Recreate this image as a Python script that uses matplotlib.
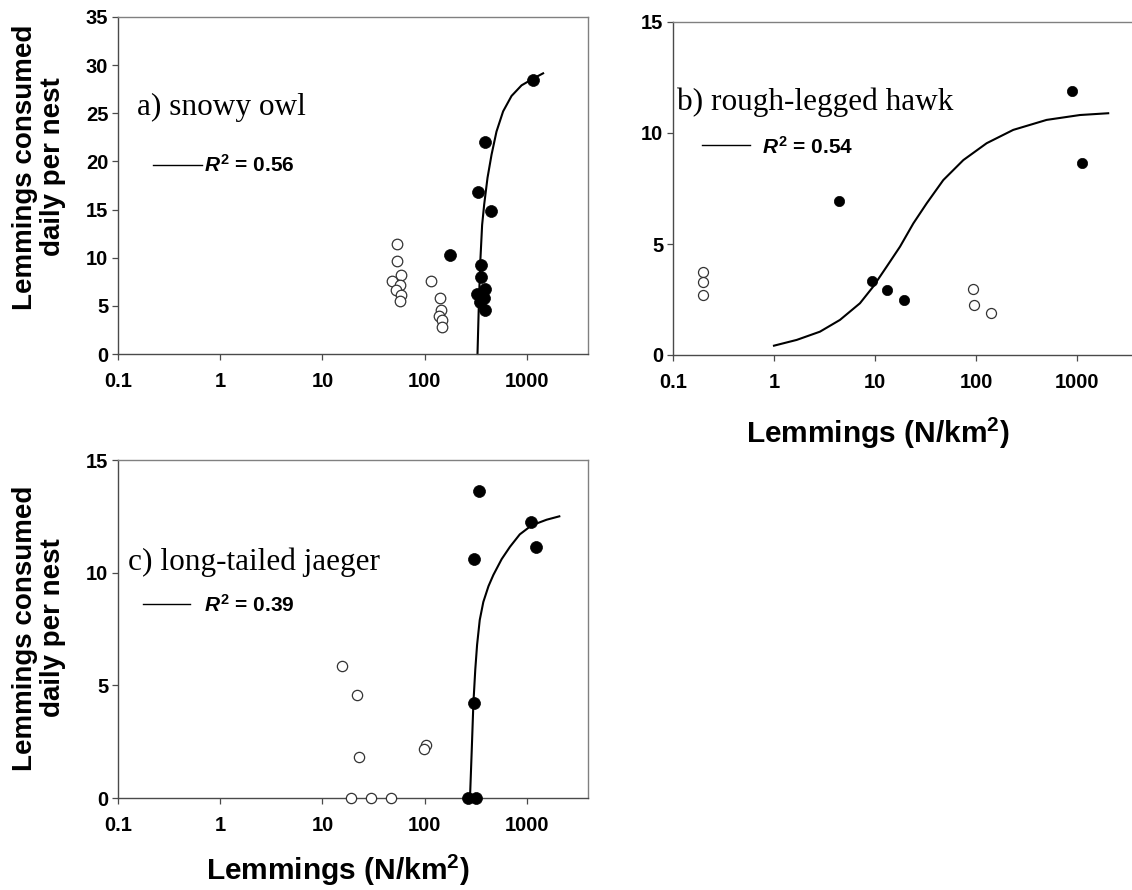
import matplotlib
matplotlib.use("Agg")
import matplotlib.pyplot as plt
from matplotlib.ticker import FixedLocator, NullLocator, FixedFormatter

plt.rcParams['font.family'] = ['Liberation Sans', 'DejaVu Sans']
plt.rcParams['mathtext.fontset'] = 'custom'
plt.rcParams['mathtext.it'] = 'Liberation Sans:italic:bold'
plt.rcParams['mathtext.rm'] = 'Liberation Sans:bold'
plt.rcParams['mathtext.bf'] = 'Liberation Sans:bold'

# ---------------- data ----------------
xticks = [0.1, 1, 10, 100, 1000]
xtick_labels = ['0.1', '1', '10', '100', '1000']

# a) snowy owl
a_open_x = [53, 53, 58, 48, 57, 52, 59, 57, 115, 141, 144, 138, 148, 146]
a_open_y = [11.4, 9.7, 8.2, 7.6, 7.2, 6.6, 6.1, 5.5, 7.6, 5.85, 4.6, 3.95, 3.5, 2.85]
a_closed_x = [1147, 387, 333, 443, 176, 353, 353, 387, 321, 380, 345, 387]
a_closed_y = [28.45, 22.0, 16.8, 14.85, 10.3, 9.25, 7.95, 6.75, 6.2, 5.8, 5.35, 4.6]
a_fit_x = [328, 338, 348, 364, 381, 411, 450, 503, 584, 706, 884, 1147, 1437]
a_fit_y = [0, 5.09, 9.24, 13.4, 15.5, 18.3, 20.7, 23.1, 25.2, 26.8, 27.9, 28.6, 29.15]
a_yticks = [0, 5, 10, 15, 20, 25, 30, 35]

# b) rough-legged hawk
b_open_x = [0.197, 0.197, 0.197, 92.7, 95.6, 139.7]
b_open_y = [3.72, 3.27, 2.69, 2.96, 2.25, 1.88]
b_closed_x = [897, 1127, 4.43, 9.27, 13.1, 19.2]
b_closed_y = [11.9, 8.63, 6.94, 3.33, 2.93, 2.5]
b_fit_x = [1.0, 1.68, 2.85, 4.5, 7.1, 9.6, 13.06, 17.7, 24, 32.5, 47.5, 75, 127.7, 234, 501, 1072, 2040]
b_fit_y = [0.42, 0.68, 1.05, 1.58, 2.33, 3.08, 3.98, 4.88, 5.93, 6.83, 7.88, 8.78, 9.54, 10.14, 10.59, 10.81, 10.89]
b_yticks = [0, 5, 10, 15]

# c) long-tailed jaeger
c_open_x = [15.4, 21.6, 22.6, 103, 98.4, 19, 29.8, 46.5]
c_open_y = [5.86, 4.57, 1.8, 2.35, 2.16, 0, 0, 0]
c_closed_x = [342, 305, 1094, 1224, 303, 263, 320]
c_closed_y = [13.64, 10.62, 12.24, 11.13, 4.2, 0, 0]
c_fit_x = [277, 288, 299, 312, 325, 345, 374, 420, 469, 565, 682, 850, 1110, 1556, 2070]
c_fit_y = [0, 2.1, 4.2, 5.7, 6.8, 7.9, 8.7, 9.4, 9.9, 10.6, 11.15, 11.7, 12.1, 12.35, 12.5]
c_yticks = [0, 5, 10, 15]

titles = ['a) snowy owl', 'b) rough-legged hawk', 'c) long-tailed jaeger']
r2_labels = ['$R^2$ = 0.56', '$R^2$ = 0.54', '$R^2$ = 0.39']
ylabel = 'Lemmings consumed\ndaily per nest'
xlabel = 'Lemmings (N/km$^2$)'

# ---------------- figure ----------------
W, H = 1132, 890
fig = plt.figure(figsize=(W / 100, H / 100), dpi=100)


def px_axes(l, r, t, b):
    return fig.add_axes([l / W, 1 - b / H, (r - l) / W, (b - t) / H])


def fx(x):
    return x / W


def fy(y):
    return 1 - y / H


spine_col = '#4a4a4a'


def style(ax, yticks, ymax, xmax, right=True):
    ax.set_xscale('log')
    ax.set_xlim(0.1, xmax)
    ax.set_ylim(0, ymax)
    ax.xaxis.set_major_locator(FixedLocator(xticks))
    ax.xaxis.set_major_formatter(FixedFormatter(xtick_labels))
    ax.xaxis.set_minor_locator(NullLocator())
    ax.set_yticks(yticks)
    ax.set_yticklabels([str(v) for v in yticks])
    for sp in ax.spines.values():
        sp.set_color(spine_col)
        sp.set_linewidth(1.0)
    ax.spines['top'].set_color('#808080')
    ax.spines['right'].set_color('#808080')
    if not right:
        ax.spines['right'].set_visible(False)
    ax.tick_params(axis='both', direction='out', length=4, width=0.9, color=spine_col,
                   labelsize=14.5)
    ax.tick_params(axis='x', pad=9)
    ax.tick_params(axis='y', pad=3)
    for lab in ax.get_xticklabels() + ax.get_yticklabels():
        lab.set_fontweight('bold')


def draw(ax, ox, oy, cx, cy, fx_, fy_, ms_c, ms_o):
    ax.plot(fx_, fy_, color='black', lw=1.5, zorder=2, clip_on=False,
            solid_joinstyle='round')
    ax.plot(ox, oy, linestyle='none', marker='o', ms=ms_o, mfc='white', mec='#333333',
            mew=0.9, zorder=3, clip_on=False)
    ax.plot(cx, cy, linestyle='none', marker='o', ms=ms_c, mfc='black', mec='black',
            mew=0.5, zorder=4, clip_on=False)


ax_a = px_axes(118, 588, 17, 354)
style(ax_a, a_yticks, 35, 3950)
draw(ax_a, a_open_x, a_open_y, a_closed_x, a_closed_y, a_fit_x, a_fit_y, 8.6, 7.6)

ax_b = px_axes(673, 1132, 22, 355)
style(ax_b, b_yticks, 15, 3510, right=False)
draw(ax_b, b_open_x, b_open_y, b_closed_x, b_closed_y, b_fit_x, b_fit_y, 7.4, 7.2)

ax_c = px_axes(118, 588, 460, 798)
style(ax_c, c_yticks, 15, 3950)
draw(ax_c, c_open_x, c_open_y, c_closed_x, c_closed_y, c_fit_x, c_fit_y, 8.6, 7.4)

# panel titles (serif)
for (x, y), t in zip([(137, 115), (677, 110), (128, 570)], titles):
    fig.text(fx(x), fy(y), t, family='Liberation Serif', fontsize=22.5,
             ha='left', va='baseline')

# legend lines and R^2 texts
for (x0, x1, yl, xt, yb), t in zip([(153, 202, 165, 204, 171.5),
                                     (702, 750, 145, 762, 154),
                                     (143, 190, 604, 204, 611.5)], r2_labels):
    fig.add_artist(plt.Line2D([fx(x0), fx(x1)], [fy(yl), fy(yl)], color='black', lw=1.0))
    fig.text(fx(xt), fy(yb), t, fontsize=15, fontweight='bold', ha='left', va='baseline')

# y labels
for yc in (167, 628):
    fig.text(fx(39), fy(yc), ylabel, rotation=90, fontsize=20, fontweight='bold',
             ha='center', va='center', multialignment='center', linespacing=1.1)

# x labels
for xc, yb in ((878, 443), (338, 880)):
    fig.text(fx(xc), fy(yb), xlabel, fontsize=21.5, fontweight='bold',
             ha='center', va='baseline')

fig.savefig('out.png', dpi=100)
